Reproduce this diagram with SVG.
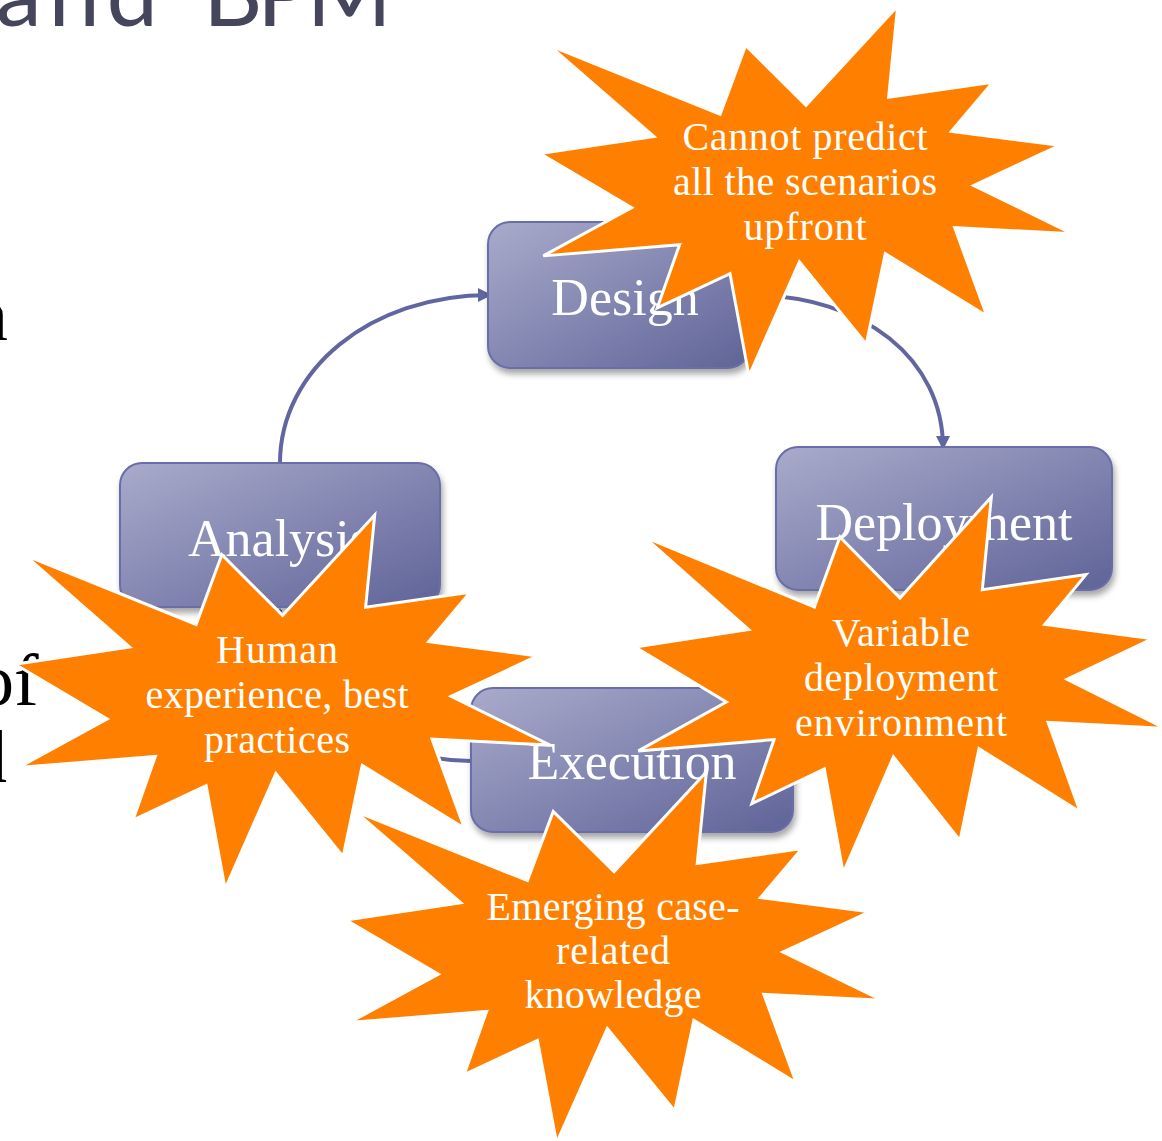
<svg xmlns="http://www.w3.org/2000/svg" width="1162" height="1141" viewBox="0 0 1162 1141">
<style>
.bg{font-family:"Liberation Serif",serif;font-size:74px;fill:#000}
.title{font-family:Lato,"Open Sans",sans-serif;font-size:92px;fill:#45455c}
.box{fill:url(#boxg);stroke:#6a6ea6;stroke-width:2;filter:url(#shadow)}
.lbl{font-family:"Liberation Serif",serif;font-size:52px;fill:#fff;text-anchor:middle}
.conn{fill:none;stroke:#6266a0;stroke-width:4;marker-end:url(#arr)}
.star{fill:#ff7f00;stroke:#fff;stroke-width:3}
.st{font-family:"Liberation Serif",serif;font-size:40px;fill:#fff;text-anchor:middle}
</style>
<defs>
<linearGradient id="boxg" x1="0" y1="0" x2="1" y2="1">
<stop offset="0" stop-color="#a9abcb"/><stop offset="1" stop-color="#5f6398"/>
</linearGradient>
<filter id="shadow" x="-10%" y="-10%" width="125%" height="135%">
<feDropShadow dx="2" dy="5" stdDeviation="3" flood-color="#000" flood-opacity="0.35"/>
</filter>
<marker id="arr" markerWidth="3.5" markerHeight="3.5" refX="3" refY="1.75" orient="auto" markerUnits="strokeWidth">
<path d="M0,0 L3.5,1.75 L0,3.5 Z" fill="#6266a0"/>
</marker>
<path id="burst" vector-effect="non-scaling-stroke" d="M10800,5800 L14522,0 L14155,5325 L18380,4457 L16702,7315 L21097,8137 L17607,10475 L21600,13290 L16837,12942 L18145,18095 L14020,14457 L13247,19737 L10532,14935 L8485,21600 L7715,15627 L4762,17617 L5667,13937 L135,14587 L3722,11775 L0,8615 L4627,7617 L370,2295 L7312,6320 L8352,2295 Z"/>
</defs>

<g id="background-text">
<text class="title" y="26"><tspan x="-4" textLength="162">and</tspan> <tspan x="203" textLength="189">BPM</tspan></text>
<text class="bg" x="-29" y="340">n</text>
<text class="bg" x="-23" y="705">of</text>
<text class="bg" x="-30" y="782">d</text>
</g>

<g id="connectors">
<path class="conn" d="M280,463 C280,370 370,295 490,295"/>
<path class="conn" d="M750,295 C865,295 943,360 943,448"/>
<path class="conn" d="M471,761 C380,761 280,700 280,610"/>
</g>

<g id="node-design">
<rect class="box" x="488" y="222" width="262" height="146" rx="22"/>
<text class="lbl" x="625" y="315">Design</text>
</g>
<g id="node-analysis">
<rect class="box" x="120" y="463" width="320" height="144" rx="22"/>
<text class="lbl" x="279" y="556">Analysis</text>
</g>
<g id="node-deployment">
<rect class="box" x="776" y="447" width="336" height="143" rx="22"/>
<text class="lbl" x="944" y="540" textLength="257">Deployment</text>
</g>
<g id="node-execution">
<rect class="box" x="471" y="688" width="322" height="144" rx="22"/>
<text class="lbl" x="632" y="779" textLength="209">Execution</text>
</g>

<g id="burst-design">
<use href="#burst" class="star" transform="translate(540,6) scale(0.02463,0.01713)"/>
<text class="st" x="805" y="150" textLength="245">Cannot predict</text>
<text class="st" x="805" y="195" textLength="264">all the scenarios</text>
<text class="st" x="805" y="240" textLength="123">upfront</text>
</g>
<g id="burst-analysis">
<use href="#burst" class="star" transform="translate(15,515) scale(0.024769,0.017315)"/>
<text class="st" x="277" y="663" textLength="122">Human</text>
<text class="st" x="277" y="708" textLength="263">experience, best</text>
<text class="st" x="277" y="753" textLength="146">practices</text>
</g>
<g id="burst-deployment">
<use href="#burst" class="star" transform="translate(635,497) scale(0.024537,0.017407)"/>
<text class="st" x="901" y="646" textLength="138">Variable</text>
<text class="st" x="901" y="691" textLength="194">deployment</text>
<text class="st" x="901" y="736" textLength="212">environment</text>
</g>
<g id="burst-execution">
<use href="#burst" class="star" transform="translate(346,772) scale(0.024815,0.017176)"/>
<text class="st" x="613" y="920" textLength="253">Emerging case-</text>
<text class="st" x="613" y="964" textLength="114">related</text>
<text class="st" x="613" y="1008" textLength="177">knowledge</text>
</g>
</svg>
